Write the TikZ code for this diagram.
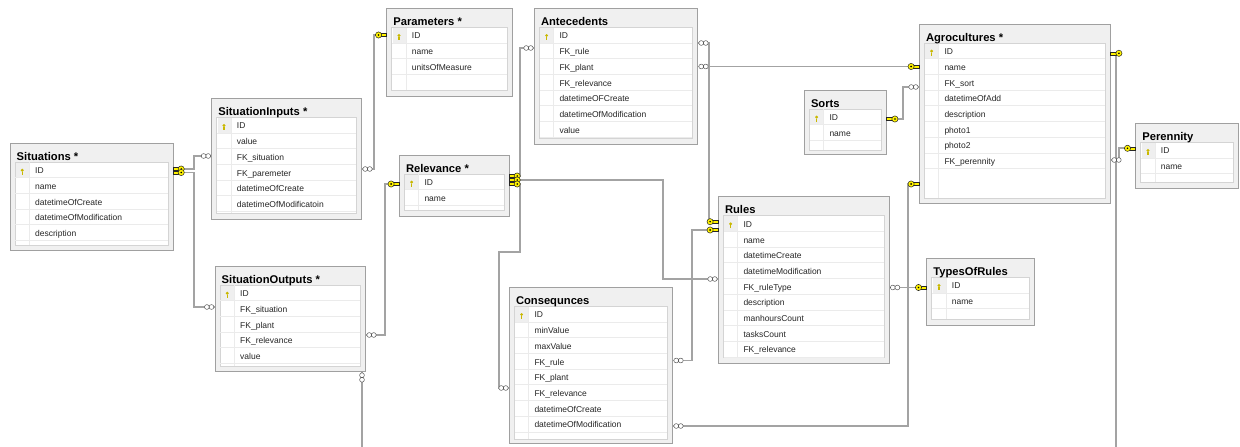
\documentclass[tikz,border=0pt]{standalone}
\usepackage{fontspec}
\setmainfont{Liberation Sans}
\usetikzlibrary{calc}
\definecolor{boxfill}{HTML}{F0F0F0}
\definecolor{boxline}{HTML}{A0A0A0}
\definecolor{gridline}{HTML}{D4D4D4}
\definecolor{rowline}{HTML}{EBEBEB}
\definecolor{connline}{HTML}{A3A3A3}
\definecolor{keyyellow}{HTML}{FFF200}
\definecolor{keydark}{HTML}{C9B800}
\definecolor{keycellbg}{HTML}{EFEFEF}
\tikzset{
  tblbox/.style={draw=boxline, fill=boxfill, line width=0.9pt, inner sep=0pt, outer sep=0pt},
  gridbox/.style={draw=gridline, fill=white, line width=0.8pt},
  rowsep/.style={draw=rowline, line width=0.7pt},
  keycell/.style={fill=keycellbg},
  rowtext/.style={anchor=base west, inner sep=0pt, font=\fontsize{8.5}{10}\selectfont, text=black!85},
  titletext/.style={anchor=base west, inner sep=0pt, font=\bfseries\fontsize{11.2}{13}\selectfont},
  conn/.style={draw=connline, line width=1.9pt},
  keyend/.pic={
    \filldraw[fill=keyyellow, draw=black!85, line width=0.5pt] (0,-1.5) rectangle (6,1.5);
    \filldraw[fill=keyyellow, draw=black!85, line width=0.5pt] (8.2,0) circle (3.1);
    \fill[black] (8.2,0) circle (0.9);
  },
  manyend/.pic={
    \filldraw[fill=white, draw=black!65, line width=0.5pt] (3.5,0) circle (2.4) (8.1,0) circle (2.4);
  },
}
\newcommand\dbkeyicon[2]{%
  \fill[keydark] (#1,#2-1.3) circle (1.6);
  \fill[keydark] (#1-0.55,#2) rectangle (#1+0.55,#2+3.2);
}
\newcommand\dbtable[8]{%
  \pgfmathsetmacro\tbw{#4-#2}\pgfmathsetmacro\tbh{#5-#3}%
  \node[tblbox, anchor=north west, minimum width=\tbw pt, minimum height=\tbh pt] (#1) at (#2,#3) {};
  \draw[gridbox] (#2+5,#3+19) rectangle (#4-5,#6);
  \fill[keycell] (#2+6,#3+19.6) rectangle (#2+19,#3+34.3);
  \draw[rowsep] (#2+19.5,#3+19.4) -- (#2+19.5,#6-0.4);
  \foreach \rr [count=\ri] in {#8} {
    \draw[rowsep] (#2+5.4,{#3+19+\ri*15.7}) -- (#4-5.4,{#3+19+\ri*15.7});
    \node[rowtext] at (#2+25,{#3+19+(\ri-1)*15.7+11.6}) {\rr};
  }
  \node[titletext] at (#2+6.5,#3+17) {#7};
  \dbkeyicon{#2+12.3}{#3+28.5}
}
\begin{document}
\begin{tikzpicture}[x=1pt,y=-1pt]
\useasboundingbox[fill=white] (0,0) rectangle (1240,447);

% ---------- tables ----------
\dbtable{sit}{10}{143}{173}{250}{245.7}{Situations *}{ID,name,datetimeOfCreate,datetimeOfModification,description}
\dbtable{sin}{211.7}{98.3}{361.7}{219.3}{213.3}{SituationInputs *}{ID,value,FK\_situation,FK\_paremeter,datetimeOfCreate,datetimeOfModificatoin}
\dbtable{par}{386.7}{8.3}{512.7}{96.7}{90.7}{Parameters *}{ID,name,unitsOfMeasure}
\dbtable{ant}{534.3}{8.3}{697.7}{144}{138.3}{Antecedents}{ID,FK\_rule,FK\_plant,FK\_relevance,datetimeOFCreate,datetimeOfModification,value}
\dbtable{rel}{399.3}{155}{509}{216}{210.7}{Relevance *}{ID,name}
\dbtable{sout}{215}{266}{365.7}{371.7}{366.7}{SituationOutputs *}{ID,FK\_situation,FK\_plant,FK\_relevance,value}
\dbtable{con}{509.3}{287.3}{672.7}{443.3}{439.3}{Consequnces}{ID,minValue,maxValue,FK\_rule,FK\_plant,FK\_relevance,datetimeOfCreate,datetimeOfModification}
\dbtable{rul}{718.3}{196.7}{889.3}{363.3}{357.5}{Rules}{ID,name,datetimeCreate,datetimeModification,FK\_ruleType,description,manhoursCount,tasksCount,FK\_relevance}
\dbtable{srt}{804.3}{90}{886.7}{154}{150}{Sorts}{ID,name}
\dbtable{agr}{919.3}{24}{1110.7}{203.3}{198.3}{Agrocultures *}{ID,name,FK\_sort,datetimeOfAdd,description,photo1,photo2,FK\_perennity}
\dbtable{per}{1135.7}{123.3}{1238.3}{188.3}{182.7}{Perennity}{ID,name}
\dbtable{tor}{926.7}{258.3}{1034}{325}{319.3}{TypesOfRules}{ID,name}

% ---------- connection points on table edges ----------
\coordinate (sitE1) at ($(sit.north east)+(0,26)$);
\coordinate (sitE2) at ($(sit.north east)+(0,29.5)$);
\coordinate (sinW)  at ($(sin.north west)+(0,57.7)$);
\coordinate (sinE)  at ($(sin.north east)+(0,70.7)$);
\coordinate (parW)  at ($(par.north west)+(0,26.7)$);
\coordinate (relW)  at ($(rel.north west)+(0,29)$);
\coordinate (relE1) at ($(rel.north east)+(0,21)$);
\coordinate (relE2) at ($(rel.north east)+(0,25)$);
\coordinate (relE3) at ($(rel.north east)+(0,29)$);
\coordinate (antW)  at ($(ant.north west)+(0,39.7)$);
\coordinate (antE1) at ($(ant.north east)+(0,34.7)$);
\coordinate (antE2) at ($(ant.north east)+(0,58.2)$);
\coordinate (soutW) at ($(sout.north west)+(0,41)$);
\coordinate (soutE) at ($(sout.north east)+(0,69)$);
\coordinate (soutS) at ($(sout.south west)+(147,0)$);
\coordinate (conW)  at ($(con.north west)+(0,100.7)$);
\coordinate (conE1) at ($(con.north east)+(0,73.2)$);
\coordinate (conE2) at ($(con.north east)+(0,138.7)$);
\coordinate (rulW1) at ($(rul.north west)+(0,25)$);
\coordinate (rulW2) at ($(rul.north west)+(0,33.3)$);
\coordinate (rulWm) at ($(rul.north west)+(0,82.3)$);
\coordinate (rulE)  at ($(rul.north east)+(0,90.8)$);
\coordinate (srtE)  at ($(srt.north east)+(0,29)$);
\coordinate (agrW1) at ($(agr.north west)+(0,42.5)$);
\coordinate (agrW2) at ($(agr.north west)+(0,63)$);
\coordinate (agrW3) at ($(agr.north west)+(0,160)$);
\coordinate (agrE1) at ($(agr.north east)+(0,29.3)$);
\coordinate (agrE2) at ($(agr.north east)+(0,136)$);
\coordinate (perW)  at ($(per.north west)+(0,25)$);
\coordinate (torW)  at ($(tor.north west)+(0,29.2)$);
\coordinate (offA)  at (1116,447);
\coordinate (offB)  at (soutS |- offA);

% ---------- connectors ----------
\draw[conn] (sitE1) -- ++(21,0) |- (sinW);
\draw[conn] (sitE2) -- ++(21,0) |- (soutW);
\draw[conn] (parW) -- ++(-12.7,0) |- (sinE);
\draw[conn] (relW) -- ++(-14.3,0) |- (soutE);
\draw[conn] (relE1) -- ++(11,0) |- (antW);
\draw[conn] (relE2) -- ++(154,0) |- (rulWm);
\draw[conn] (relE3) -- ++(11,0) -- ++(0,68) -- ++(-21,0) |- (conW);
\draw[conn] (rulW1) -- ++(-9.3,0) |- (antE1);
\draw[conn] (rulW2) -- ++(-26.3,0) |- (conE1);
\draw[conn] (agrW1) -- (antE2);
\draw[conn] (srtE) -- ++(16.3,0) |- (agrW2);
\draw[conn] (agrW3) -- ++(-11.3,0) |- (conE2);
\draw[conn] (torW) -- (rulE);
\draw[conn] (perW) -- ++(-16.7,0) |- (agrE2);
\draw[conn] (agrE1) -| (offA);
\draw[conn] (soutS) -- (offB);

% ---------- end markers ----------
\pic at (sitE1) {keyend};
\pic at (sitE2) {keyend};
\pic[xscale=-1] at (sinW) {manyend};
\pic at (sinE) {manyend};
\pic[xscale=-1] at (parW) {keyend};
\pic[xscale=-1] at (relW) {keyend};
\pic at (relE1) {keyend};
\pic at (relE2) {keyend};
\pic at (relE3) {keyend};
\pic[xscale=-1] at (antW) {manyend};
\pic at (antE1) {manyend};
\pic at (antE2) {manyend};
\pic[xscale=-1] at (soutW) {manyend};
\pic at (soutE) {manyend};
\pic[rotate=-90] at (soutS) {manyend};
\pic[xscale=-1] at (conW) {manyend};
\pic at (conE1) {manyend};
\pic at (conE2) {manyend};
\pic[xscale=-1] at (rulW1) {keyend};
\pic[xscale=-1] at (rulW2) {keyend};
\pic[xscale=-1] at (rulWm) {manyend};
\pic at (rulE) {manyend};
\pic at (srtE) {keyend};
\pic[xscale=-1] at (agrW1) {keyend};
\pic[xscale=-1] at (agrW2) {manyend};
\pic[xscale=-1] at (agrW3) {keyend};
\pic at (agrE1) {keyend};
\pic at (agrE2) {manyend};
\pic[xscale=-1] at (perW) {keyend};
\pic[xscale=-1] at (torW) {keyend};
\end{tikzpicture}
\end{document}
